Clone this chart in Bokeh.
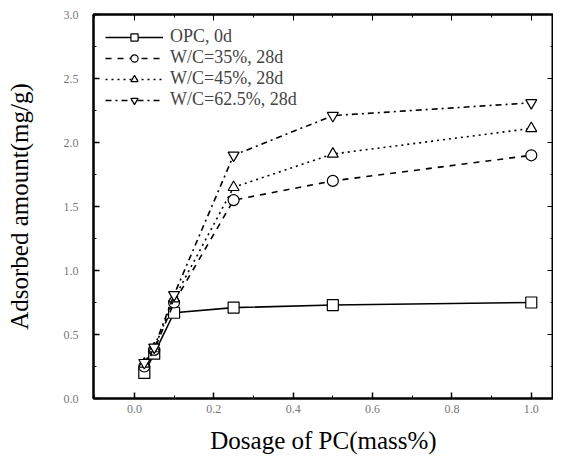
from bokeh.plotting import figure
from bokeh.models import (Range1d, LinearAxis, SingleIntervalTicker, NumeralTickFormatter,
                          Legend, LegendItem, CustomJSTickFormatter)
from bokeh.embed import file_html
from bokeh.resources import INLINE

dosage = [0.025, 0.05, 0.1, 0.25, 0.5, 1.0]
opc_0d = [0.20, 0.35, 0.67, 0.71, 0.73, 0.75]
wc35_28d = [0.25, 0.38, 0.75, 1.55, 1.70, 1.90]
wc45_28d = [0.27, 0.39, 0.78, 1.65, 1.91, 2.11]
wc625_28d = [0.28, 0.40, 0.81, 1.90, 2.21, 2.31]

series = [
    ("OPC, 0d", opc_0d, "solid", "square"),
    ("W/C=35%, 28d", wc35_28d, "dashed", "circle"),
    ("W/C=45%, 28d", wc45_28d, "dotted", "triangle"),
    ("W/C=62.5%, 28d", wc625_28d, "dashdot", "inverted_triangle"),
]

SERIF = "Liberation Serif"

p = figure(frame_width=460, frame_height=384, output_backend="svg", toolbar_location=None,
           x_range=Range1d(-0.103, 1.056), y_range=Range1d(0, 3.0),
           min_border_left=93, min_border_top=14, min_border_right=0, min_border_bottom=40)
p.background_fill_color = "white"
p.border_fill_color = "white"
p.outline_line_color = "black"
p.outline_line_width = 2
p.xgrid.visible = False
p.ygrid.visible = False

bottom = p.below[0]
left = p.left[0]

xt = SingleIntervalTicker(interval=0.2, num_minor_ticks=2)
yt = SingleIntervalTicker(interval=0.5, num_minor_ticks=2)
bottom.ticker = xt
left.ticker = yt

blank = CustomJSTickFormatter(code="return '';")
top = LinearAxis(ticker=xt, formatter=blank)
right = LinearAxis(ticker=yt, formatter=blank)
p.add_layout(top, "above")
p.add_layout(right, "right")
for ax in (top, right):
    ax.major_label_standoff = 0
    ax.major_tick_in = 6
    ax.major_tick_out = 0
    ax.minor_tick_in = 3
    ax.minor_tick_out = 0
    ax.axis_line_width = 2

for ax in (bottom, left):
    ax.formatter = NumeralTickFormatter(format="0.0")
    ax.major_tick_in = 6
    ax.major_tick_out = 0
    ax.minor_tick_in = 3
    ax.minor_tick_out = 0
    ax.axis_line_width = 2
    ax.major_tick_line_width = 1.5
    ax.major_label_text_font = SERIF
    ax.major_label_text_font_size = "12px"
    ax.major_label_text_color = "#777777"
    ax.axis_label_text_font = SERIF
    ax.axis_label_text_font_size = "25px"
    ax.axis_label_text_font_style = "normal"
    ax.axis_label_text_color = "black"
bottom.axis_label = "Dosage of PC(mass%)"
left.axis_label = "Adsorbed amount(mg/g)"
bottom.major_label_standoff = 6
left.major_label_standoff = 15
bottom.axis_label_standoff = 11
left.axis_label_standoff = 28

items = []
for label, vals, dash, marker in series:
    r1 = p.line(dosage, vals, line_color="black", line_width=1.6, line_dash=dash)
    r2 = p.scatter(dosage, vals, marker=marker, size=11, fill_color="white",
                   line_color="black", line_width=1.2)
    items.append(LegendItem(label=label, renderers=[r1, r2]))

legend = Legend(items=items, location="top_left")
legend.border_line_color = None
legend.background_fill_alpha = 0
legend.label_text_font = SERIF
legend.label_text_font_size = "18px"
legend.glyph_width = 58
legend.glyph_height = 18
legend.spacing = 0
legend.padding = 4
legend.margin = 12
legend.label_standoff = 7
legend.label_height = 18
p.add_layout(legend)

open("out.html", "w").write(file_html(p, INLINE))
